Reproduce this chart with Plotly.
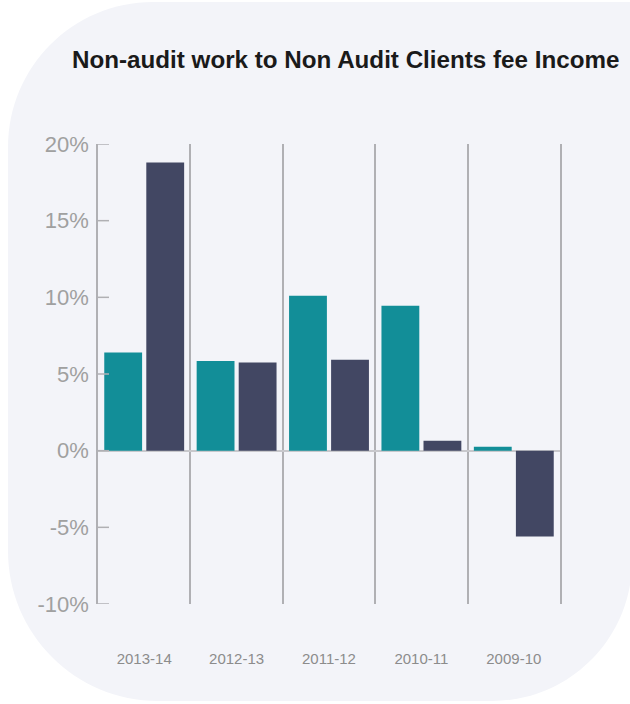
import plotly.graph_objects as go

# Fee income change by financial year
years = ["2013-14", "2012-13", "2011-12", "2010-11", "2009-10"]
series_a = [6.4, 5.85, 10.1, 9.45, 0.25]
series_b = [18.8, 5.75, 5.93, 0.65, -5.6]
y_ticks = [-10, -5, 0, 5, 10, 15, 20]
y_tick_text = [f"{v}%" for v in y_ticks]

W, H = 630, 704
L, R, T, B = 98, 70, 144, 100
PW, PH = W - L - R, H - T - B
AXIS_GREY = "#b0b0b4"


def px(x):
    return (x - L) / PW


def py(y):
    return (H - B - y) / PH


def card_path(left, top, right, bottom, r_tl, r_bl, r_br):
    k = 0.5523
    pts = []
    pts.append(f"M{px(left + r_tl)},{py(top)}")
    pts.append(f"L{px(right)},{py(top)}")
    pts.append(f"L{px(right)},{py(bottom - r_br)}")
    pts.append(
        f"C{px(right)},{py(bottom - r_br + k * r_br)} "
        f"{px(right - r_br + k * r_br)},{py(bottom)} "
        f"{px(right - r_br)},{py(bottom)}"
    )
    pts.append(f"L{px(left + r_bl)},{py(bottom)}")
    pts.append(
        f"C{px(left + r_bl - k * r_bl)},{py(bottom)} "
        f"{px(left)},{py(bottom - r_bl + k * r_bl)} "
        f"{px(left)},{py(bottom - r_bl)}"
    )
    pts.append(f"L{px(left)},{py(top + r_tl)}")
    pts.append(
        f"C{px(left)},{py(top + r_tl - k * r_tl)} "
        f"{px(left + r_tl - k * r_tl)},{py(top)} "
        f"{px(left + r_tl)},{py(top)}"
    )
    pts.append("Z")
    return " ".join(pts)


fig = go.Figure()
fig.add_trace(go.Bar(x=years, y=series_a, marker_color="#128e98", marker_line_width=0))
fig.add_trace(go.Bar(x=years, y=series_b, marker_color="#424763", marker_line_width=0))

# rounded card behind the chart
fig.add_shape(
    type="path",
    xref="paper",
    yref="paper",
    path=card_path(8, 2, 632, 701, 145, 150, 140),
    fillcolor="#f3f4f9",
    line_width=0,
    layer="below",
)

# short inward tick marks on the y axis, one per tick value
for v in y_ticks:
    fig.add_shape(
        type="line",
        xref="paper",
        xsizemode="pixel",
        xanchor=0,
        x0=0,
        x1=11,
        yref="y",
        y0=v,
        y1=v,
        line=dict(color=AXIS_GREY, width=1.5),
        layer="above",
    )

fig.update_layout(
    width=W,
    height=H,
    margin=dict(l=L, r=R, t=T, b=B, autoexpand=False),
    paper_bgcolor="white",
    plot_bgcolor="rgba(0,0,0,0)",
    showlegend=False,
    barmode="group",
    bargap=0.09,
    bargroupgap=0.1,
    font=dict(family="Liberation Sans, Arial, sans-serif"),
    title=dict(
        text="<b>Non-audit work to Non Audit Clients fee Income</b>",
        xref="container",
        yref="container",
        x=72 / W,
        xanchor="left",
        y=1 - 60 / H,
        yanchor="middle",
        font=dict(size=24.2, color="#1a1a1a"),
    ),
)

fig.update_xaxes(
    type="category",
    tickson="boundaries",
    showgrid=True,
    gridcolor=AXIS_GREY,
    gridwidth=1.5,
    showline=False,
    ticks="",
    ticklabelstandoff=44,
    tickfont=dict(size=15, color="#8c8c8c"),
    zeroline=False,
)

fig.update_yaxes(
    range=[-10, 20],
    tickvals=y_ticks,
    ticktext=y_tick_text,
    showgrid=False,
    showline=True,
    mirror=True,
    linecolor=AXIS_GREY,
    linewidth=1.5,
    ticks="",
    ticklabelstandoff=3,
    tickfont=dict(size=22, color="#a0a0a0"),
    zeroline=True,
    zerolinecolor="#c8c8cc",
    zerolinewidth=2,
)

fig.write_html("out.html")
